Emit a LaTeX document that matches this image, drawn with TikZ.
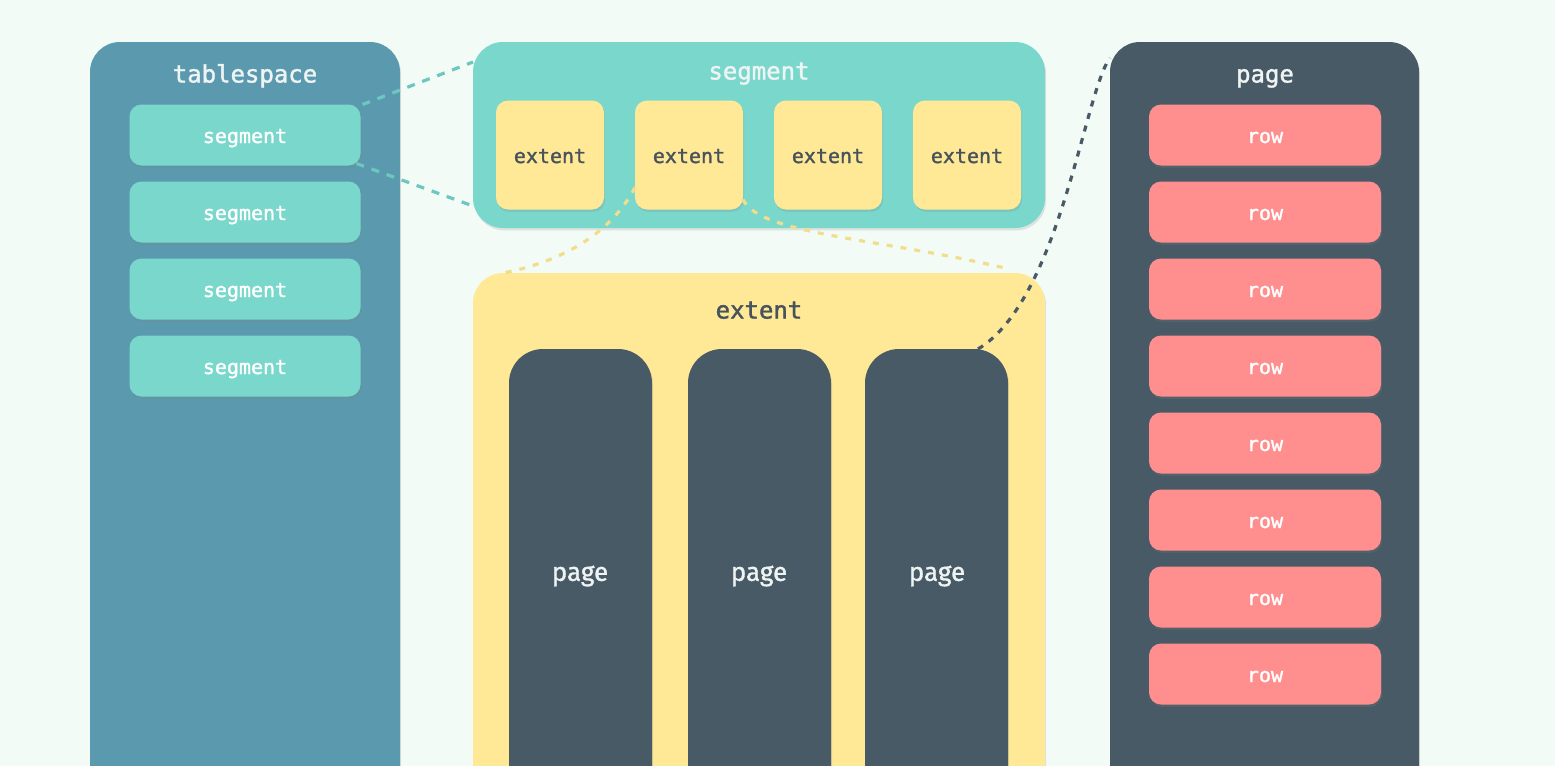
\documentclass[tikz,border=0pt]{standalone}
\usepackage{fontspec}
\setmonofont{DejaVu Sans Mono}
\setsansfont{Fira Sans}
\newfontfamily\labelfont[FakeBold=1.5]{DejaVu Sans Mono}
\newfontfamily\pagefont[FakeBold=1.2]{Fira Sans}
\usetikzlibrary{shadows}

\definecolor{bgcol}{HTML}{F3FBF6}
\definecolor{tscol}{HTML}{5B9AAE}
\definecolor{segcol}{HTML}{79D8CB}
\definecolor{extcol}{HTML}{FFE997}
\definecolor{pagecol}{HTML}{485A66}
\definecolor{rowcol}{HTML}{FF8F8F}
\definecolor{lighttext}{HTML}{EEF3F3}
\definecolor{darktext}{HTML}{47525A}
\definecolor{segdash}{HTML}{6CC8BE}
\definecolor{extdash}{HTML}{F2DD8C}

\tikzset{
  box/.style={inner sep=0pt,outer sep=0pt,drop shadow={opacity=0.2,shadow xshift=0.6pt,shadow yshift=-1.2pt}},
  bigbox/.style={box,rounded corners=15pt,anchor=north west},
  smallbox/.style={box,rounded corners=6pt,font=\labelfont\fontsize{10}{12}\selectfont,text height=8pt,text depth=0pt},
  head/.style={font=\labelfont\fontsize{12}{14}\selectfont,inner sep=0pt,text height=6.5pt,text depth=0pt},
  segbox/.style={smallbox,fill=segcol,text=white,minimum width=115.5pt,minimum height=30.5pt},
  extbox/.style={smallbox,fill=extcol,text=darktext,minimum width=54pt,minimum height=54.5pt},
  rowbox/.style={smallbox,fill=rowcol,text=white,minimum width=116pt,minimum height=30.5pt},
  pagecolumn/.style={box,fill=pagecol,rounded corners=17pt,anchor=north west,minimum width=71.5pt,minimum height=225.5pt},
  pagetext/.style={font=\pagefont\fontsize{13}{15}\selectfont,text=lighttext,inner sep=0pt,text height=6.85pt,text depth=0pt},
  link/.style={line width=1.6pt}
}

\begin{document}
\begin{tikzpicture}[x=0.5pt,y=-0.5pt]
    \fill[bgcol] (0,0) rectangle (1555,766);
    \useasboundingbox (0,0) rectangle (1555,766);

    %% tablespace
    \node[bigbox,fill=tscol,minimum width=155pt,minimum height=379pt] (tablespace) at (90,42) {};
    \node[head,text=lighttext] (tslabel) at (245,76) {tablespace};
    \node[segbox] (seg1) at (245,135) {segment};
    \node[segbox] (seg2) at (245,212) {segment};
    \node[segbox] (seg3) at (245,289) {segment};
    \node[segbox] (seg4) at (245,366) {segment};

    %% segment
    \node[bigbox,fill=segcol,minimum width=286pt,minimum height=93pt] (segbig) at (473,42) {};
    \node[head,text=lighttext] (seglabel) at (759,73) {segment};
    \node[extbox] (ext1) at (550,155) {extent};
    \node[extbox] (ext2) at (689,155) {extent};
    \node[extbox] (ext3) at (828,155) {extent};
    \node[extbox] (ext4) at (967,155) {extent};

    %% extent
    \node[bigbox,fill=extcol,minimum width=286pt,minimum height=263.5pt] (extbig) at (473,273) {};
    \node[head,text=darktext] (extlabel) at (759,312) {extent};
    \node[pagecolumn] (page1) at (509,349) {};
    \node[pagecolumn] (page2) at (688,349) {};
    \node[pagecolumn] (page3) at (865,349) {};
    \node[pagetext] (p1label) at (580,574) {page};
    \node[pagetext] (p2label) at (759,574) {page};
    \node[pagetext] (p3label) at (937,574) {page};

    %% page
    \node[bigbox,fill=pagecol,minimum width=154.5pt,minimum height=379pt] (pagebig) at (1110,42) {};
    \node[head,text=lighttext] (pagelabel) at (1265,76) {page};
    \node[rowbox] (row1) at (1265,135) {row};
    \node[rowbox] (row2) at (1265,212) {row};
    \node[rowbox] (row3) at (1265,289) {row};
    \node[rowbox] (row4) at (1265,366) {row};
    \node[rowbox] (row5) at (1265,443) {row};
    \node[rowbox] (row6) at (1265,520) {row};
    \node[rowbox] (row7) at (1265,597) {row};
    \node[rowbox] (row8) at (1265,674) {row};

    %% zoom lines
    \coordinate (segtop) at ([yshift=-10pt]segbig.north west);
    \coordinate (segbot) at ([yshift=11pt]segbig.south west);
    \draw[link,segdash,dash pattern=on 4pt off 4pt] ([xshift=1pt]seg1.north east) -- (segtop);
    \draw[link,segdash,dash pattern=on 4pt off 4pt] ([xshift=-2pt,yshift=1pt]seg1.south east) -- (segbot);

    \coordinate (extleft) at ([xshift=15pt]extbig.north west);
    \coordinate (extright) at ([xshift=-18pt,yshift=2pt]extbig.north east);
    \draw[link,extdash,dash pattern=on 3pt off 4pt] ([yshift=11pt]ext2.south west) .. controls (610,235) and (560,262) .. (extleft);
    \draw[link,extdash,dash pattern=on 3pt off 4pt] ([yshift=5pt]ext2.south east) .. controls (760,235) and (880,238) .. (extright);

    \coordinate (pagetop) at ([yshift=-8pt]pagebig.north west);
    \draw[link,pagecol,dash pattern=on 3pt off 3.5pt] ([xshift=-15pt]page3.north east) .. controls (1060,300) and (1085,90) .. (pagetop);
  \end{tikzpicture}
\end{document}
